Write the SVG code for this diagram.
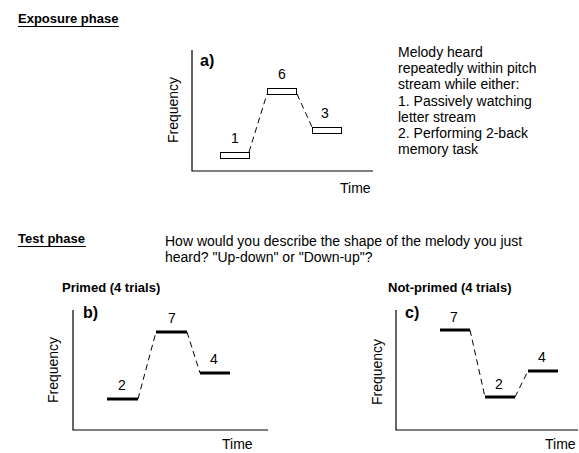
<svg xmlns="http://www.w3.org/2000/svg" width="579" height="453" viewBox="0 0 579 453">
<style>
text{font-family:"Liberation Sans",Arial,sans-serif;fill:#000}
.t{font-size:14px}
.h{font-size:13px;font-weight:bold}
.p{font-size:16px;font-weight:bold}
.ax{stroke:#000;stroke-width:1.2;fill:none}
.box{stroke:#000;stroke-width:1;fill:#fff}
.bar{stroke:#000;stroke-width:3}
.dash{stroke:#000;stroke-width:1;stroke-dasharray:6,4;fill:none}
.ul{stroke:#000;stroke-width:1}
</style>
<g id="headings">
<text class="h" x="18" y="23">Exposure phase</text>
<line class="ul" x1="18" y1="26.5" x2="119" y2="26.5"/>
<text class="h" x="18" y="243">Test phase</text>
<line class="ul" x1="18" y1="246.5" x2="86" y2="246.5"/>
<text class="t" x="165" y="246">How would you describe the shape of the melody you just</text>
<text class="t" x="165" y="262">heard? "Up-down" or "Down-up"?</text>
<text class="h" x="62" y="292">Primed (4 trials)</text>
<text class="h" x="388" y="292">Not-primed (4 trials)</text>
</g>
<g id="description">
<text class="t" x="398" y="57">Melody heard</text>
<text class="t" x="398" y="73.2">repeatedly within pitch</text>
<text class="t" x="398" y="89.4">stream while either:</text>
<text class="t" x="398" y="105.6">1. Passively watching</text>
<text class="t" x="398" y="121.8">letter stream</text>
<text class="t" x="398" y="138">2. Performing 2-back</text>
<text class="t" x="398" y="154.2">memory task</text>
</g>
<g id="panel-a">
<path class="ax" d="M192,50 V171 H373"/>
<text class="p" x="200" y="66">a)</text>
<text class="t" transform="translate(178,110) rotate(-90)" text-anchor="middle">Frequency</text>
<text class="t" x="340" y="193">Time</text>
<rect class="box" x="220.5" y="152.5" width="29" height="6"/>
<rect class="box" x="267.5" y="88.5" width="29" height="6"/>
<rect class="box" x="312.5" y="127.5" width="29" height="6"/>
<text class="t" x="235" y="143" text-anchor="middle">1</text>
<text class="t" x="282" y="79" text-anchor="middle">6</text>
<text class="t" x="325" y="118" text-anchor="middle">3</text>
</g>
<g id="panel-b">
<path class="ax" d="M73,310 V430 H268"/>
<text class="p" x="83" y="318">b)</text>
<text class="t" transform="translate(58,370) rotate(-90)" text-anchor="middle">Frequency</text>
<text class="t" x="222" y="449">Time</text>
<line class="bar" x1="107" y1="399" x2="138" y2="399"/>
<line class="bar" x1="156" y1="332" x2="187" y2="332"/>
<line class="bar" x1="200" y1="373" x2="230" y2="373"/>
<text class="t" x="122" y="390" text-anchor="middle">2</text>
<text class="t" x="172" y="323" text-anchor="middle">7</text>
<text class="t" x="214" y="364" text-anchor="middle">4</text>
</g>
<g id="panel-c">
<path class="ax" d="M396,310 V430 H578"/>
<text class="p" x="405" y="318">c)</text>
<text class="t" transform="translate(382,372) rotate(-90)" text-anchor="middle">Frequency</text>
<text class="t" x="545" y="449">Time</text>
<line class="bar" x1="440" y1="330" x2="470" y2="330"/>
<line class="bar" x1="485" y1="397" x2="515" y2="397"/>
<line class="bar" x1="528" y1="371" x2="558" y2="371"/>
<text class="t" x="454" y="322" text-anchor="middle">7</text>
<text class="t" x="499" y="389" text-anchor="middle">2</text>
<text class="t" x="542" y="362" text-anchor="middle">4</text>
</g>
<g id="connectors">
<line class="dash" x1="249" y1="152" x2="267" y2="94"/>
<line class="dash" x1="297" y1="94" x2="312" y2="127"/>
<line class="dash" x1="138" y1="399" x2="156" y2="332"/>
<line class="dash" x1="187" y1="332" x2="200" y2="373"/>
<line class="dash" x1="470" y1="330" x2="485" y2="397"/>
<line class="dash" x1="515" y1="397" x2="528" y2="371"/>
</g>
</svg>
